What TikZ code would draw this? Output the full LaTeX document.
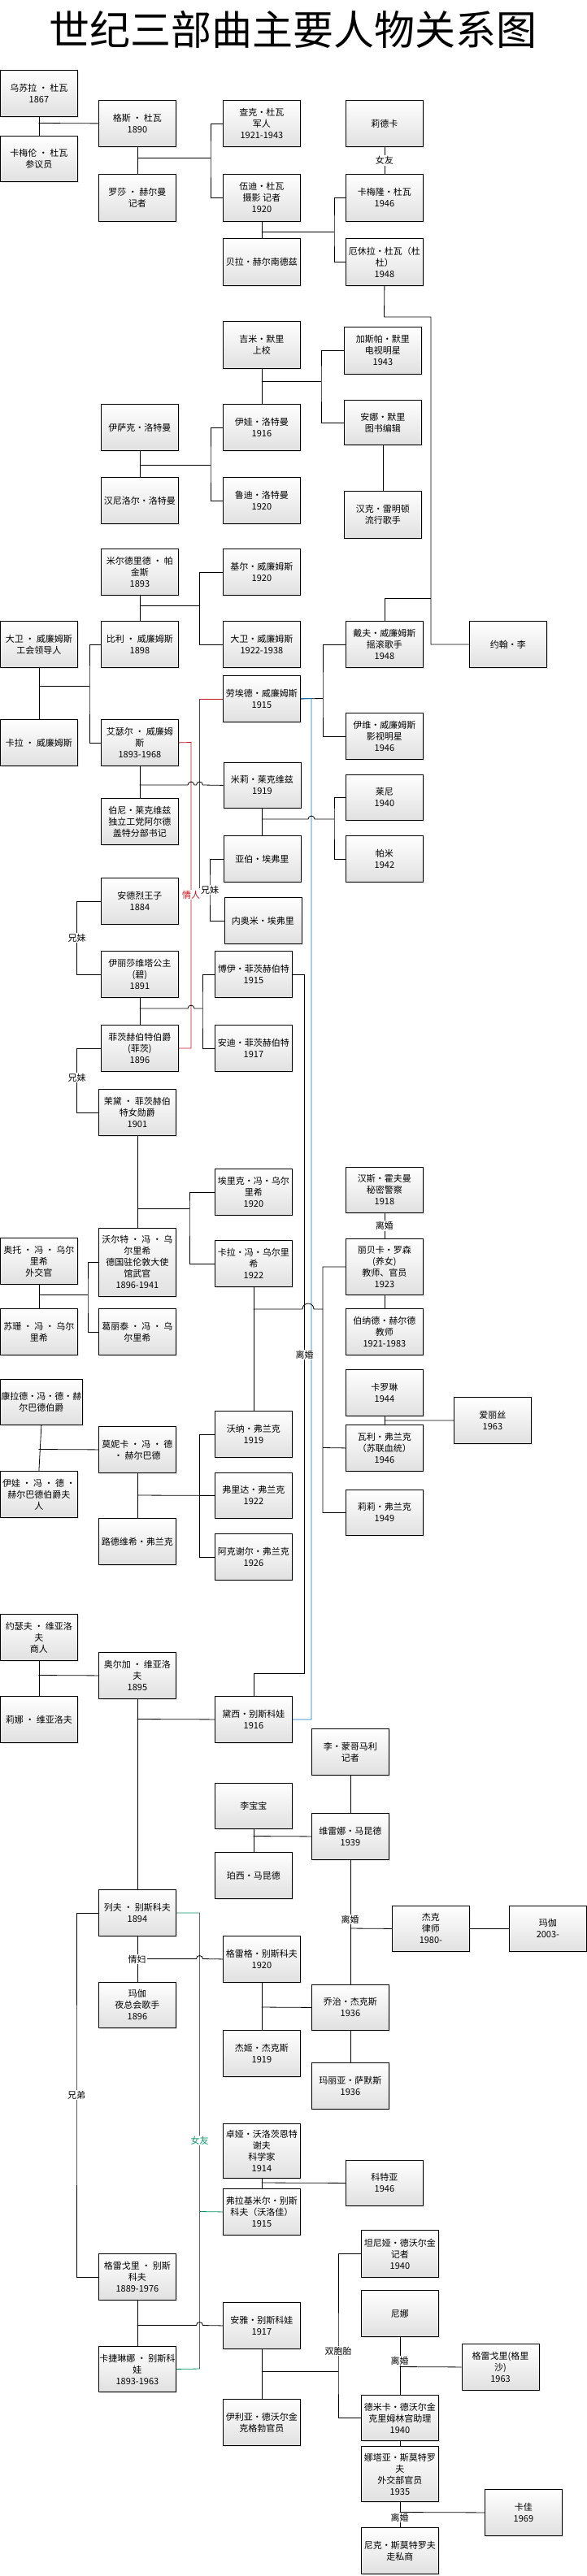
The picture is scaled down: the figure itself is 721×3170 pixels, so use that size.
\documentclass[tikz,border=0pt]{standalone}
\usepackage{fontspec}
\setmainfont{Noto Sans CJK SC}
\usetikzlibrary{shadows}
\definecolor{rl}{RGB}{200,20,30}
\definecolor{bl}{RGB}{0,120,190}
\definecolor{gl}{RGB}{0,150,100}
\begin{document}
\begin{tikzpicture}[x=1pt,y=-1pt,line width=0.8pt,
 box/.style={draw,line width=0.8pt,anchor=north west,minimum width=95pt,inner sep=1pt,align=center,
   top color=white,bottom color=black!12,font=\fontsize{11}{14}\selectfont,
   drop shadow={opacity=0.2,shadow xshift=1.5pt,shadow yshift=-1.5pt}},
 lab/.style={fill=white,inner sep=1pt,font=\fontsize{11}{13}\selectfont}]
\useasboundingbox[fill=white] (0,0) rectangle (721,3170);
\node[font=\fontsize{50}{52}\selectfont] (title) at (360,36) {世纪三部曲主要人物关系图};
\newcommand\bx[5]{\node[box,minimum height=#4pt] (#1) at (#2,#3) {#5};}
\bx{wusula}{0}{86}{57}{乌苏拉 · 杜瓦\\1867}
\bx{kameilun}{0}{167}{56}{卡梅伦 · 杜瓦\\参议员}
\bx{gesi}{121}{123}{57}{格斯 · 杜瓦\\1890}
\bx{luosha}{121}{214}{58}{罗莎 · 赫尔曼\\记者}
\bx{chake}{274}{123}{57}{查克·杜瓦\\军人\\1921-1943}
\bx{wudi}{274}{214}{58}{伍迪·杜瓦\\摄影 记者\\1920}
\bx{lideka}{425}{123}{57}{莉德卡}
\bx{kameilong}{425}{214}{58}{卡梅隆·杜瓦\\1946}
\bx{beila}{274}{293}{58}{贝拉·赫尔南德兹}
\bx{exiula}{425}{293}{58}{厄休拉·杜瓦（杜\\杜）\\1948}
\bx{jimi}{274}{395}{58}{吉米·默里\\上校}
\bx{jiasipa}{423}{402}{58}{加斯帕·默里\\电视明星\\1943}
\bx{anna}{423}{492}{55}{安娜·默里\\图书编辑}
\bx{yisake}{124}{497}{57}{伊萨克·洛特曼}
\bx{yiwa}{274}{497}{57}{伊娃·洛特曼\\1916}
\bx{hanniluoer}{124}{587}{57}{汉尼洛尔·洛特曼}
\bx{ludi}{274}{587}{57}{鲁迪·洛特曼\\1920}
\bx{hanke}{423}{604}{58}{汉克·雷明顿\\流行歌手}
\bx{mierdelide}{124}{675}{57}{米尔德里德 · 帕\\金斯\\1893}
\bx{jier}{274}{675}{57}{基尔·威廉姆斯\\1920}
\bx{dawei}{274}{764}{57}{大卫·威廉姆斯\\1922-1938}
\bx{daifu}{425}{764}{57}{戴夫·威廉姆斯\\摇滚歌手\\1948}
\bx{yuehan}{577}{764}{57}{约翰·李}
\bx{daweiG}{0}{764}{57}{大卫 · 威廉姆斯\\工会领导人}
\bx{bili}{124}{764}{57}{比利 · 威廉姆斯\\1898}
\bx{kala}{0}{885}{57}{卡拉 · 威廉姆斯}
\bx{aiseer}{124}{885}{57}{艾瑟尔 · 威廉姆\\斯\\1893-1968}
\bx{laoaide}{274}{831}{57}{劳埃德·威廉姆斯\\1915}
\bx{yiwei}{425}{877}{57}{伊维·威廉姆斯\\影视明星\\1946}
\bx{mili}{274.5}{938}{56}{米莉·莱克维兹\\1919}
\bx{boni}{124}{982}{57}{伯尼·莱克维兹\\独立工党阿尔德\\盖特分部书记}
\bx{laini}{425}{953}{56}{莱尼\\1940}
\bx{pami}{425}{1028}{57}{帕米\\1942}
\bx{yabo}{274.5}{1028}{57}{亚伯·埃弗里}
\bx{neiaomi}{275.5}{1104}{57}{内奥米·埃弗里}
\bx{andelie}{124}{1080}{57}{安德烈王子\\1884}
\bx{yilisha}{124}{1170}{57}{伊丽莎维塔公主\\(碧)\\1891}
\bx{feici}{124}{1261}{57}{菲茨赫伯特伯爵\\(菲茨)\\1896}
\bx{boyi}{264}{1170}{57}{博伊·菲茨赫伯特\\1915}
\bx{andi}{264}{1261}{57}{安迪·菲茨赫伯特\\1917}
\bx{maodai}{121}{1340}{57}{茉黛 · 菲茨赫伯\\特女勋爵\\1901}
\bx{ailike}{264}{1438}{57}{埃里克·冯·乌尔\\里希\\1920}
\bx{kalaf}{264}{1526}{57}{卡拉·冯·乌尔里\\希\\1922}
\bx{woerte}{121}{1511}{84}{沃尔特 · 冯 · 乌\\尔里希\\德国驻伦敦大使\\馆武官\\1896-1941}
\bx{aotuo}{0}{1523}{57}{奥托 · 冯 · 乌尔\\里希\\外交官}
\bx{hansi}{425}{1436}{56}{汉斯·霍夫曼\\秘密警察\\1918}
\bx{libeika}{425}{1524}{69}{丽贝卡·罗森\\(养女)\\教师、官员\\1923}
\bx{sushan}{0}{1610}{57}{苏珊 · 冯 · 乌尔\\里希}
\bx{geli}{121}{1610}{57}{葛丽泰 · 冯 · 乌\\尔里希}
\bx{bonade}{425}{1610}{57}{伯纳德·赫尔德\\教师\\1921-1983}
\bx{kanglade}{0}{1697}{56}{康拉德·冯·德·赫\\尔巴德伯爵}
\bx{monika}{121}{1755}{57}{莫妮卡 · 冯 · 德\\· 赫尔巴德}
\bx{yiwaf}{0}{1810}{57}{伊娃 · 冯 · 德 ·\\赫尔巴德伯爵夫\\人}
\bx{wona}{264}{1736}{57}{沃纳·弗兰克\\1919}
\bx{folida}{264}{1812}{56}{弗里达·弗兰克\\1922}
\bx{kaluolin}{425}{1685}{57}{卡罗琳\\1944}
\bx{wali}{425}{1753}{57}{瓦利·弗兰克\\（苏联血统）\\1946}
\bx{ailisi}{558}{1719}{57}{爱丽丝\\1963}
\bx{lili}{425}{1833}{56}{莉莉·弗兰克\\1949}
\bx{ludeweixi}{121}{1868}{57}{路德维希·弗兰克}
\bx{akexieer}{264}{1887}{57}{阿克谢尔·弗兰克\\1926}
\bx{yuesefu}{0}{1986}{57}{约瑟夫 · 维亚洛\\夫\\商人}
\bx{aoerjia}{121}{2033}{57}{奥尔加 · 维亚洛\\夫\\1895}
\bx{lina}{0}{2087}{57}{莉娜 · 维亚洛夫}
\bx{daixi}{264}{2087}{57}{黛西·别斯科娃\\1916}
\bx{limeng}{383}{2127}{57}{李·蒙哥马利\\记者}
\bx{libaobao}{264}{2194}{56}{李宝宝}
\bx{weileina}{383}{2231}{57}{维雷娜·马昆德\\1939}
\bx{boxi}{264}{2279}{57}{珀西·马昆德}
\bx{jieke}{482}{2345}{56}{杰克\\律师\\1980-}
\bx{majiaB}{626}{2345}{56}{玛伽\\2003-}
\bx{liefu}{121}{2325}{57}{列夫 · 别斯科夫\\1894}
\bx{geleige}{274}{2382}{57}{格雷格·别斯科夫\\1920}
\bx{majia}{121}{2439}{56}{玛伽\\夜总会歌手\\1896}
\bx{qiaozhi}{383}{2442}{56}{乔治·杰克斯\\1936}
\bx{jieji}{274}{2498}{57}{杰姬·杰克斯\\1919}
\bx{maliya}{383}{2538}{57}{玛丽亚·萨默斯\\1936}
\bx{zhuoya}{274}{2613}{67}{卓娅·沃洛茨恩特\\谢夫\\科学家\\1914}
\bx{keteya}{425}{2658}{56}{科特亚\\1946}
\bx{fulajimier}{274}{2693}{57}{弗拉基米尔·别斯\\科夫（沃洛佳）\\1915}
\bx{tanniya}{444}{2744}{58}{坦尼娅·德沃尔金\\记者\\1940}
\bx{geleigeli}{121}{2773}{57}{格雷戈里 · 别斯\\科夫\\1889-1976}
\bx{anya}{274}{2833}{57}{安雅·别斯科娃\\1917}
\bx{nina}{444}{2818}{57}{尼娜}
\bx{gelisha}{567.6}{2884}{57}{格雷戈里(格里\\沙)\\1963}
\bx{kajielin}{121}{2887}{56}{卡捷琳娜 · 别斯科\\娃\\1893-1963}
\bx{yiliya}{274}{2952}{57}{伊利亚·德沃尔金\\克格勃官员}
\bx{demika}{444}{2947}{56}{德米卡·德沃尔金\\克里姆林宫助理\\1940}
\bx{natasha}{444}{3010}{68}{娜塔亚·斯莫特罗\\夫\\外交部官员\\1935}
\bx{kajia}{596}{3063}{57}{卡佳\\1969}
\bx{nike}{444}{3110}{57}{尼克·斯莫特罗夫\\走私商}
% connectors
\draw (wusula.south) -- (kameilun.north); \draw (47.5,151.5) -- (gesi.west);
\draw (gesi.south) -- (luosha.north); \draw (168.5,194) -- (259,194);
\draw (chake.west) -| (259,194) |- (wudi.west);
\draw (wudi.south) -- (beila.north); \draw (321.5,285) -- (411,285);
\draw (kameilong.west) -| (411,285) |- (exiula.west);
\draw (lideka.south) -- node[lab]{女友} (kameilong.north);
\draw (exiula.south) -- (472.5,390) -| (530,736) |- (yuehan.west);
\draw (530,736) -| (daifu.north);
\draw (jimi.south) -- (yiwa.north); \draw (321.5,469) -- (395,469);
\draw (jiasipa.west) -| (395,469) |- (anna.west);
\draw (anna.south) -- (hanke.north);
\draw (yisake.south) -- (hanniluoer.north); \draw (171.5,572) -- (259,572);
\draw (yiwa.west) -| (259,572) |- (ludi.west);
\draw (mierdelide.south) -- (bili.north); \draw (171.5,745) -- (245.5,745);
\draw (jier.west) -| (245.5,745) |- (dawei.west);
\draw (daifu.west) -| (397,860) |- (yiwei.west);
\draw (laoaide.east) -- (397,859.5);
\draw[bl] (laoaide.east) -- (383,859.5) |- (daixi.east);
\draw (daweiG.south) -- (kala.north); \draw (47.5,844) -- (110,844);
\draw (bili.west) -| (110,844) |- (aiseer.west);
\draw[rl] (aiseer.east) -- (235,913.5) |- (feici.east);
\draw[rl] (laoaide.west) -| (245.5,1093);
\node[lab,text=rl] (qingren) at (235,1101) {情人};
\draw (aiseer.south) -- (boni.north);
\draw (171.5,966) -- (231,966) arc[start angle=180,end angle=360,radius=4] -- (241.5,966) arc[start angle=180,end angle=360,radius=4] -- (mili.west);
\draw (mili.south) -- (yabo.north);
\draw (322,1008) -- (379,1008) arc[start angle=180,end angle=360,radius=4] -- (411,1008);
\draw (laini.west) -| (411,1008) |- (pami.west);
\draw (yabo.west) -| (258,1095) node[lab]{兄妹} |- (neiaomi.west);
\draw (andelie.west) -| (94.6,1154) node[lab]{兄妹} |- (yilisha.west);
\draw (yilisha.south) -- (feici.north);
\draw (171.5,1241) -- (231,1241) arc[start angle=180,end angle=360,radius=4] -- (249,1241);
\draw (boyi.west) -| (249,1241) |- (andi.west);
\draw (boyi.east) -| (374.7,2059) -| (daixi.north);
\node[lab] (lihun1) at (374.7,1667) {离婚};
\draw (feici.west) -| (94.6,1326) node[lab]{兄妹} |- (maodai.west);
\draw (maodai.south) -- (woerte.north); \draw (168.5,1487) -- (233,1487);
\draw (ailike.west) -| (233,1487) |- (kalaf.west);
\draw (aotuo.south) -- (sushan.north); \draw (47.5,1593) -- (108,1593);
\draw (woerte.west) -| (108,1593) |- (geli.west);
\draw (hansi.south) -- node[lab]{离婚} (libeika.north);
\draw (libeika.south) -- (bonade.north);
\draw (kalaf.south) -- (wona.north);
\draw (311.5,1611) -- (372,1611) arc[start angle=180,end angle=360,radius=7] -- (397,1611);
\draw (libeika.west) -| (397,1861.5) -- (lili.west); \draw (397,1781.5) -- (wali.west);
\draw (kaluolin.south) -- (wali.north); \draw (472.5,1748) -- (ailisi.west);
\draw (kanglade.south) -- (yiwaf.north); \draw (47.5,1783.5) -- (monika.west);
\draw (monika.south) -- (ludeweixi.north); \draw (168.5,1840) -- (folida.west);
\draw (wona.west) -| (245.5,1840) |- (akexieer.west);
\draw (yuesefu.south) -- (lina.north); \draw (47.5,2061.5) -- (aoerjia.west);
\draw (aoerjia.south) -- (liefu.north); \draw (168.5,2115.5) -- (daixi.west);
\draw (limeng.south) -- (weileina.north);
\draw (libaobao.south) -- (boxi.north); \draw (311.5,2259.5) -- (weileina.west);
\draw (weileina.south) -- (qiaozhi.north);
\node[lab] (lihun2) at (430.5,2362) {离婚};
\draw (430.5,2373) -- (jieke.west); \draw (jieke.east) -- (majiaB.west);
\draw (liefu.west) -| (94,2578) node[lab]{兄弟} |- (geleigeli.west);
\draw[gl] (liefu.east) -| (245.5,2915) -- (kajielin.east);
\draw[gl] (245.5,2721.5) -- (fulajimier.west);
\node[lab,text=gl] (nvyou2) at (245.5,2634) {女友};
\draw (liefu.south) -- (majia.north);
\draw (168.5,2410.5) -- (241.5,2410.5) arc[start angle=180,end angle=360,radius=4] -- (geleige.west);
\node[lab] (qingfu) at (168.5,2411) {情妇};
\draw (geleige.south) -- (jieji.north); \draw (321.5,2470) -- (qiaozhi.west);
\draw (qiaozhi.south) -- (maliya.north);
\draw (zhuoya.south) -- (fulajimier.north); \draw (321.5,2686) -- (keteya.west);
\draw (geleigeli.south) -- (kajielin.north);
\draw (168.5,2861.5) -- (241.5,2861.5) arc[start angle=180,end angle=360,radius=4] -- (anya.west);
\draw (anya.south) -- (yiliya.north); \draw (321.5,2918) -- (416,2918);
\draw (tanniya.west) -| (416,2918) |- (demika.west);
\node[lab] (shuangbao) at (416,2893) {双胞胎};
\draw (nina.south) -- (demika.north); \draw (491.5,2912.5) -- (gelisha.west);
\node[lab] (lihun3) at (491.5,2905) {离婚};
\draw (demika.south) -- (natasha.north);
\draw (natasha.south) -- (nike.north); \draw (491.5,3091.5) -- (kajia.west);
\node[lab] (lihun4) at (491.5,3098) {离婚};
\end{tikzpicture}
\end{document}
